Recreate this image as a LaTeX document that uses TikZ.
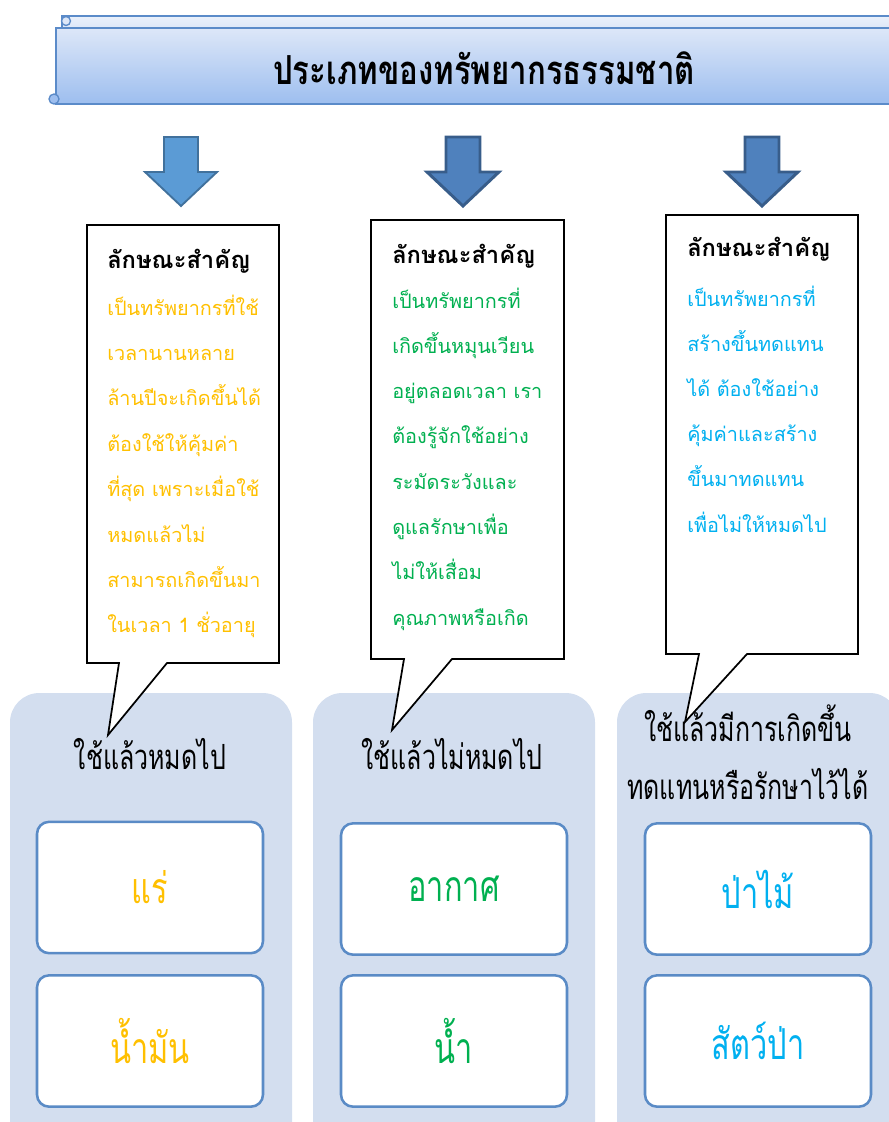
\documentclass[tikz,border=0pt]{standalone}
\usepackage{fontspec}
\usetikzlibrary{positioning}
\newfontfamily\thaifont[Script=Thai]{Loma}
\newfontfamily\thainarrow[Script=Thai,FakeStretch=0.72]{Loma}
\newfontfamily\thaititle[Script=Thai,FakeStretch=0.78]{Loma}
\definecolor{gold}{HTML}{FFC000}
\definecolor{leaf}{HTML}{00B050}
\definecolor{sky}{HTML}{00B0F0}
\definecolor{panelblue}{HTML}{D3DEEF}
\definecolor{boxedge}{HTML}{5A8BC6}
\definecolor{arrowlightfill}{HTML}{5B9BD5}
\definecolor{arrowlightedge}{HTML}{41719C}
\definecolor{arrowdarkfill}{HTML}{4F81BD}
\definecolor{arrowdarkedge}{HTML}{385D8A}
\definecolor{bannertop}{HTML}{DDE7F8}
\definecolor{bannerbottom}{HTML}{9DBEEF}
\definecolor{banneredge}{HTML}{5B8BC9}
\tikzset{
  bannerbody/.style={top color=bannertop, bottom color=bannerbottom, draw=banneredge, line width=1.2pt},
  titletext/.style={font=\thaititle\bfseries\fontsize{30}{34}\selectfont},
  arrowlight/.style={fill=arrowlightfill, draw=arrowlightedge, line width=1.4pt},
  arrowdark/.style={fill=arrowdarkfill, draw=arrowdarkedge, line width=2.2pt},
  calloutedge/.style={draw=black, fill=white, line width=1.3pt, line join=miter},
  headline/.style={font=\thaifont\bfseries\fontsize{17.8}{20}\selectfont, anchor=base west, inner sep=0pt},
  bodyline/.style={font=\thaifont\fontsize{14.9}{17}\selectfont, anchor=base west, inner sep=0pt},
  panel/.style={fill=panelblue, rounded corners=22pt},
  grouplabel/.style={font=\thainarrow\fontsize{26}{43.5}\selectfont, align=center},
  itembox/.style={draw=boxedge, line width=1.9pt, fill=white, rounded corners=9pt,
    minimum width=169.5pt, minimum height=98.5pt, font=\thainarrow\fontsize{32}{36}\selectfont},
}
\begin{document}
\begin{tikzpicture}[x=0.75pt, y=-0.75pt]
\clip (0,0) rectangle (889,1122);
% banner
\shade[bannerbody] (56,28) rectangle (905,104);
\shade[bannerbody, top color=bannertop!60!white, bottom color=bannertop] (62,16) rectangle (905,28);
\draw[banneredge, line width=1pt, fill=bannertop] (66,21) circle (4.5);
\draw[banneredge, line width=1pt, fill=bannerbottom] (54,99) circle (5);
\node[titletext] (title) at (484,68) {ประเภทของทรัพยากรธรรมชาติ};
% arrows
\foreach \cx/\st in {181/arrowlight, 463/arrowdark, 762/arrowdark}
  \draw[\st] ({\cx-17},137) -- ({\cx+17},137) -- ({\cx+17},172) -- ({\cx+36},172)
    -- (\cx,206) -- ({\cx-36},172) -- ({\cx-17},172) -- cycle;
% panels
\foreach \x in {10,313,617} \fill[panel] (\x,693) rectangle ++(282,480);
% callouts
\coordinate (tip1) at (108,735);
\coordinate (tip2) at (392,730);
\coordinate (tip3) at (685,722);
\draw[calloutedge] (87,225) -- (279,225) -- (279,663) -- (167,663) -- (tip1) -- (119,663) -- (87,663) -- cycle;
\draw[calloutedge] (371,220) -- (564,220) -- (564,659) -- (452,659) -- (tip2) -- (404,659) -- (371,659) -- cycle;
\draw[calloutedge] (666,215) -- (858,215) -- (858,654) -- (747,654) -- (tip3) -- (699,654) -- (666,654) -- cycle;
% callout texts
\node[headline] (head1) at (107,268) {ลักษณะสำคัญ};
\node[headline] (head2) at (392,263) {ลักษณะสำคัญ};
\node[headline] (head3) at (687,256) {ลักษณะสำคัญ};
\foreach \t [count=\i] in {เป็นทรัพยากรที่ใช้, เวลานานหลาย, ล้านปีจะเกิดขึ้นได้, ต้องใช้ให้คุ้มค่า, ที่สุด เพราะเมื่อใช้, หมดแล้วไม่, สามารถเกิดขึ้นมา, ในเวลา 1 ชั่วอายุ}
  \node[bodyline, text=gold] (nonrenew\i) at (107,{315+45.4*(\i-1)}) {\t};
\foreach \t [count=\i] in {เป็นทรัพยากรที่, เกิดขึ้นหมุนเวียน, อยู่ตลอดเวลา เรา, ต้องรู้จักใช้อย่าง, ระมัดระวังและ, ดูแลรักษาเพื่อ, ไม่ให้เสื่อม, คุณภาพหรือเกิด}
  \node[bodyline, text=leaf] (renew\i) at (392,{308+45.3*(\i-1)}) {\t};
\foreach \t [count=\i] in {เป็นทรัพยากรที่, สร้างขึ้นทดแทน, ได้ ต้องใช้อย่าง, คุ้มค่าและสร้าง, ขึ้นมาทดแทน, เพื่อไม่ให้หมดไป}
  \node[bodyline, text=sky] (replace\i) at (687,{306+45.2*(\i-1)}) {\t};
% group labels
\node[grouplabel] (label1) at (150,754) {ใช้แล้วหมดไป};
\node[grouplabel] (label2) at (452,754) {ใช้แล้วไม่หมดไป};
\node[grouplabel] (label3) at (748,752) {ใช้แล้วมีการเกิดขึ้น\\ทดแทนหรือรักษาไว้ได้};
% items
\node[itembox, text=gold] (ore) at (150,887.5) {แร่};
\node[itembox, text=gold] (oil) at (150,1041) {น้ำมัน};
\node[itembox, text=leaf] (air) at (454,889) {อากาศ};
\node[itembox, text=leaf] (water) at (454,1041) {น้ำ};
\node[itembox, text=sky] (forest) at (758,889) {ป่าไม้};
\node[itembox, text=sky] (wildlife) at (758,1041) {สัตว์ป่า};
\end{tikzpicture}
\end{document}
